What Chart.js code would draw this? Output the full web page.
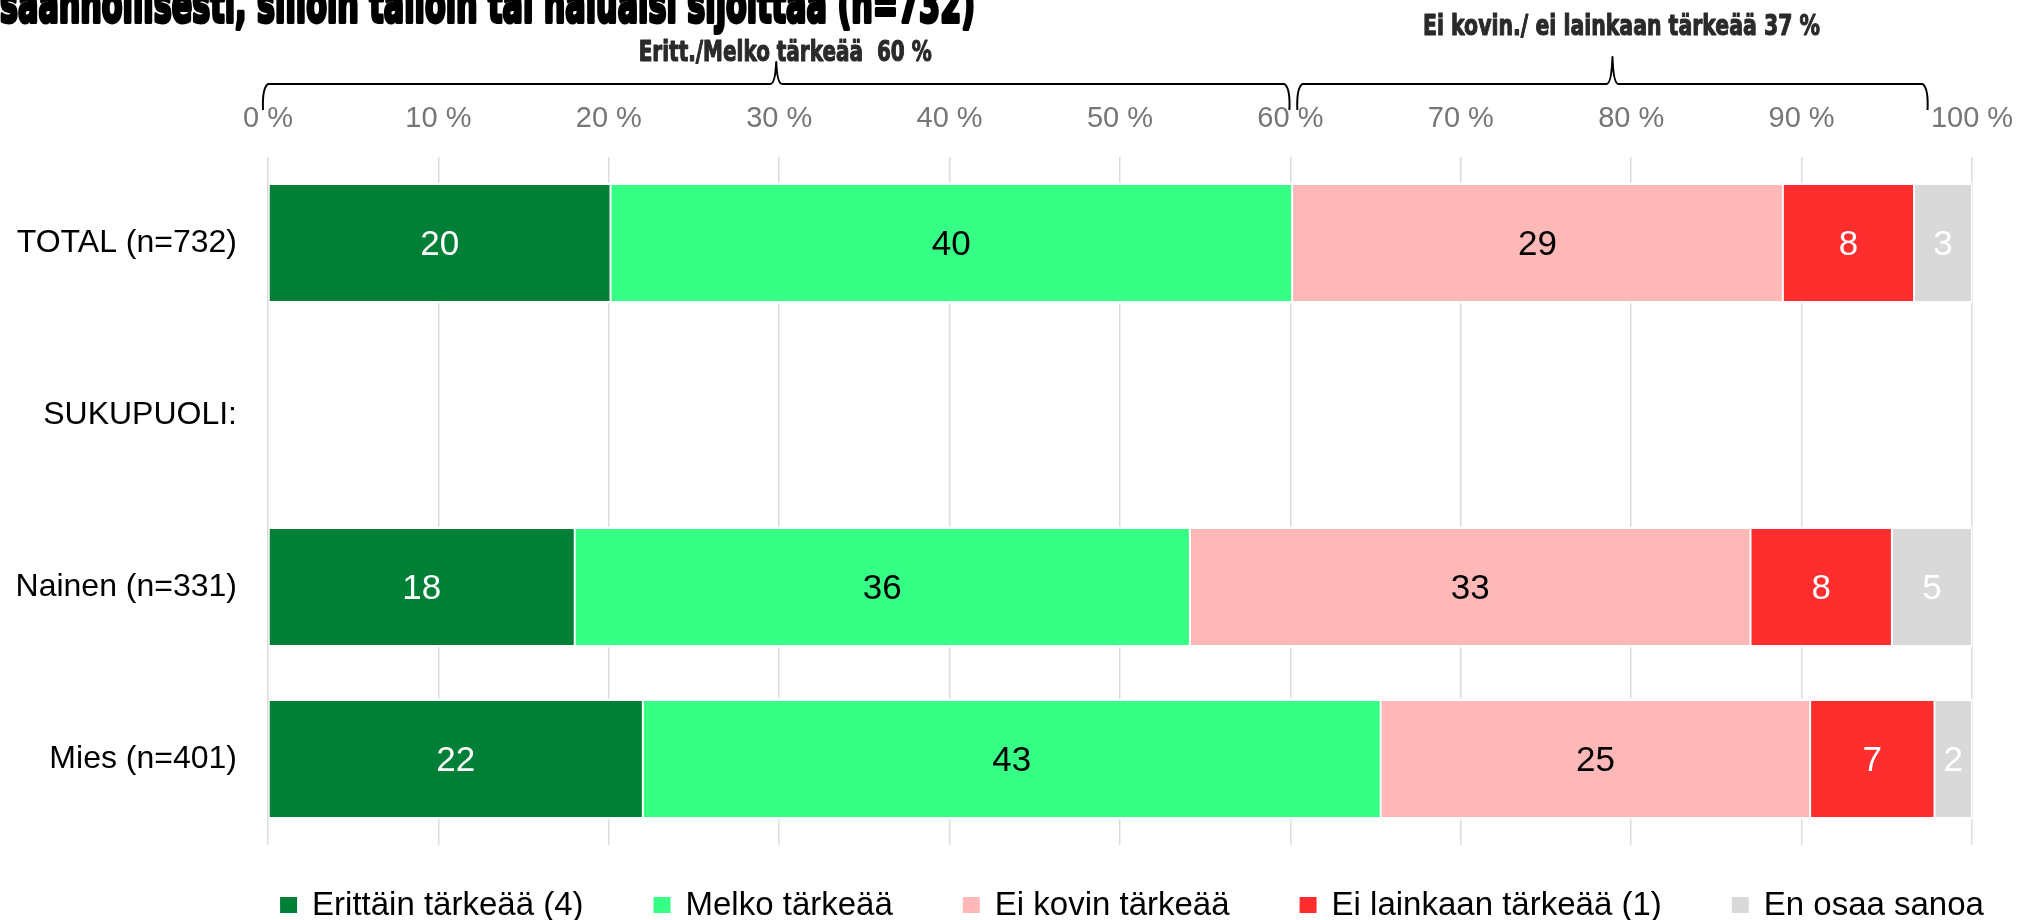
<!DOCTYPE html>
<html>
<head>
<meta charset="utf-8">
<script src="https://cdn.jsdelivr.net/npm/chart.js@4.4.1/dist/chart.umd.min.js"></script>
<style>
html,body{margin:0;padding:0;background:#fff;}
#wrap{width:2018px;height:920px;position:relative;}
</style>
</head>
<body>
<div id="wrap"><canvas id="c" width="2018" height="920"></canvas></div>
<script>
// ---- data ----
const categories = ["TOTAL (n=732)", "SUKUPUOLI:", "Nainen (n=331)", "Mies (n=401)"];
const seriesNames = ["Erittäin tärkeää (4)", "Melko tärkeää", "Ei kovin tärkeää", "Ei lainkaan tärkeää (1)", "En osaa sanoa"];
const erittain   = [20.1, null, 18.0, 22.0];
const melko      = [40.0, null, 36.1, 43.3];
const eiKovin    = [28.8, null, 32.9, 25.2];
const eiLainkaan = [7.7,  null, 8.3,  7.3];
const enOsaa     = [3.4,  null, 4.7,  2.2];
const xTickValues = [0, 10, 20, 30, 40, 50, 60, 70, 80, 90, 100];
const titleText = "säännöllisesti, silloin tällöin tai haluaisi sijoittaa (n=732)";
const bracketLabels = ["Eritt./Melko tärkeää  60 %", "Ei kovin./ ei lainkaan tärkeää 37 %"];
const bracketFrom = [-0.35, 60.35];
const bracketTo   = [60.0, 97.45];

// ---- styles ----
const fillColors  = ["#007F37", "#36FF86", "#FFB8B8", "#FF2E2E", "#D9D9D9"];
const labelColors = ["#FFFFFF", "#000000", "#000000", "#FFFFFF", "#FFFFFF"];
const FONT = '"Liberation Sans", Arial, sans-serif';
const HEAVY = '"DejaVu Sans", sans-serif';

const seriesData = [erittain, melko, eiKovin, eiLainkaan, enOsaa];

const datasets = seriesData.map((d, i) => ({
  label: seriesNames[i],
  data: d,
  backgroundColor: fillColors[i],
  borderColor: "#FFFFFF",
  borderWidth: {top: 2.5, bottom: 2.5, left: 1, right: 1},
  borderSkipped: false,
  categoryPercentage: 0.7035,
  barPercentage: 1.0
}));

const valueLabels = {
  id: "valueLabels",
  afterDatasetsDraw(chart) {
    const ctx = chart.ctx;
    ctx.save();
    ctx.font = "35px " + FONT;
    ctx.textAlign = "center";
    ctx.textBaseline = "middle";
    chart.data.datasets.forEach((ds, i) => {
      const meta = chart.getDatasetMeta(i);
      meta.data.forEach((el, j) => {
        const v = ds.data[j];
        if (v == null) return;
        const p = el.getProps(["x", "y", "base"], true);
        ctx.fillStyle = labelColors[i];
        ctx.fillText(String(Math.round(v)), (p.x + p.base) / 2, p.y + 2);
      });
    });
    ctx.restore();
  }
};

function drawSqueezed(ctx, text, font, targetW, cx, cy, align, baseline, color, stroke) {
  ctx.save();
  ctx.font = font;
  const w = ctx.measureText(text).width;
  const sx = targetW / w;
  ctx.translate(cx, cy);
  ctx.scale(sx, 1);
  ctx.textAlign = align;
  ctx.textBaseline = baseline;
  ctx.fillStyle = color;
  ctx.strokeStyle = color;
  ctx.lineWidth = stroke;
  ctx.lineJoin = "round";
  ctx.fillText(text, 0, 0);
  if (stroke > 0) ctx.strokeText(text, 0, 0);
  ctx.restore();
}

const decorations = {
  id: "decorations",
  afterDraw(chart) {
    const ctx = chart.ctx;
    const xs = chart.scales.x;
    // title (upper part cut off by the top edge)
    drawSqueezed(ctx, titleText, "bold 52px " + HEAVY, 975, 0, 22, "left", "alphabetic", "#000", 4);

    // brackets
    const yLine = 84, yEnd = 110;
    const tipY = [62, 57];
    const labelY = [53, 27];
    const labelW = [293, 397];
    ctx.save();
    ctx.strokeStyle = "#000";
    ctx.lineWidth = 2;
    ctx.lineJoin = "round";
    for (let k = 0; k < bracketLabels.length; k++) {
      const x1 = xs.getPixelForValue(bracketFrom[k]);
      const x2 = xs.getPixelForValue(bracketTo[k]);
      const xm = (x1 + x2) / 2;
      ctx.beginPath();
      ctx.moveTo(x1 + 1, yEnd);
      ctx.quadraticCurveTo(x1, yLine + 4, x1 + 6, yLine);
      ctx.lineTo(xm - 6, yLine);
      ctx.quadraticCurveTo(xm - 1, yLine, xm, tipY[k]);
      ctx.quadraticCurveTo(xm + 1, yLine, xm + 6, yLine);
      ctx.lineTo(x2 - 6, yLine);
      ctx.quadraticCurveTo(x2, yLine + 4, x2 - 1, yEnd);
      ctx.stroke();
      drawSqueezed(ctx, bracketLabels[k], "bold 29px " + HEAVY, labelW[k], xm + 9, labelY[k], "center", "middle", "#2a2a2a", 1.2);
    }
    ctx.restore();

    // legend
    ctx.save();
    ctx.font = "33px " + FONT;
    ctx.textBaseline = "middle";
    const box = 17, gapText = 15, gapItem = 70, ly = 905;
    const widths = seriesNames.map(s => ctx.measureText(s).width);
    let total = 0;
    widths.forEach((w, i) => { total += box + gapText + w + (i < widths.length - 1 ? gapItem : 0); });
    let x = (chart.chartArea.left + chart.chartArea.right) / 2 + 12 - total / 2;
    seriesNames.forEach((s, i) => {
      ctx.fillStyle = fillColors[i];
      ctx.fillRect(x, ly - 8, box, 16);
      ctx.fillStyle = "#000";
      ctx.textAlign = "left";
      ctx.fillText(s, x + box + gapText, ly + 1);
      x += box + gapText + widths[i] + gapItem;
    });
    ctx.restore();
  }
};

new Chart(document.getElementById("c"), {
  type: "bar",
  data: { labels: categories, datasets: datasets },
  options: {
    responsive: false,
    animation: false,
    indexAxis: "y",
    layout: { padding: { top: 0, right: 46, bottom: 75, left: 0 } },
    plugins: { legend: { display: false }, tooltip: { enabled: false }, title: { display: false } },
    scales: {
      x: {
        position: "top",
        stacked: true,
        min: 0, max: 100,
        afterBuildTicks: s => { s.ticks = xTickValues.map(v => ({ value: v })); },
        ticks: {
          callback: v => v + " %",
          color: "#767676",
          font: { family: FONT, size: 29 },
          padding: 21,
          maxRotation: 0,
          autoSkip: false
        },
        grid: { color: "#DCDCDC", lineWidth: 1.5, drawTicks: false },
        border: { display: false },
        afterFit: s => { s.height = 157; s.paddingLeft = 0; s.paddingRight = 0; }
      },
      y: {
        stacked: true,
        ticks: { color: "#000", font: { family: FONT, size: 32 }, padding: 31 },
        grid: { display: false, drawTicks: false },
        border: { display: false },
        afterFit: s => { s.width = 268; s.paddingTop = 0; s.paddingBottom = 0; }
      }
    }
  },
  plugins: [valueLabels, decorations]
});
</script>
</body>
</html>
